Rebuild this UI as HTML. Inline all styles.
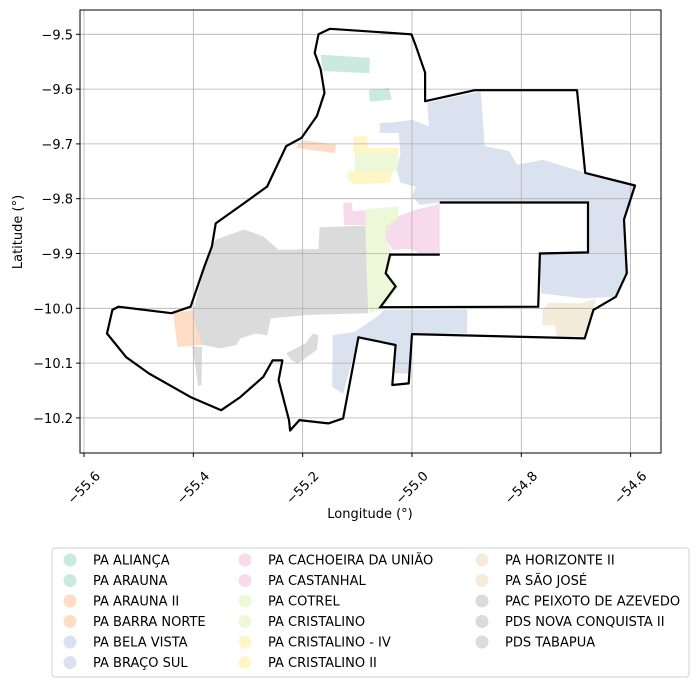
<!DOCTYPE html>
<html><head><meta charset="utf-8"><style>
html,body{margin:0;padding:0;background:#fff;}
svg{display:block;font-family:"DejaVu Sans","Liberation Sans",sans-serif;}
</style></head><body>
<svg id="chart" width="698" height="686" viewBox="0 0 698 686"></svg>
<script>
// ---- data (lon/lat) ----
const xTicks = [-55.6, -55.4, -55.2, -55.0, -54.8, -54.6];
const xTickLabels = ["\u221255.6","\u221255.4","\u221255.2","\u221255.0","\u221254.8","\u221254.6"];
const yTicks = [-9.5, -9.6, -9.7, -9.8, -9.9, -10.0, -10.1, -10.2];
const yTickLabels = ["\u22129.5","\u22129.6","\u22129.7","\u22129.8","\u22129.9","\u221210.0","\u221210.1","\u221210.2"];
const outlineLon = [-55.150,-55.001,-54.993,-54.976,-54.976,-54.885,-54.698,-54.683,-54.592,-54.612,-54.607,-54.627,-54.668,-54.684,-55.000,-55.006,-55.036,-55.030,-55.098,-55.126,-55.153,-55.206,-55.223,-55.225,-55.244,-55.237,-55.255,-55.272,-55.314,-55.349,-55.405,-55.481,-55.523,-55.558,-55.548,-55.537,-55.440,-55.405,-55.380,-55.366,-55.359,-55.307,-55.265,-55.230,-55.202,-55.174,-55.160,-55.167,-55.178,-55.171];
const outlineLat = [-9.490,-9.500,-9.521,-9.570,-9.622,-9.602,-9.602,-9.753,-9.776,-9.838,-9.936,-9.979,-10.003,-10.055,-10.047,-10.137,-10.140,-10.067,-10.053,-10.201,-10.210,-10.204,-10.223,-10.204,-10.131,-10.095,-10.095,-10.125,-10.162,-10.186,-10.162,-10.119,-10.089,-10.046,-10.003,-9.997,-10.009,-9.997,-9.924,-9.887,-9.845,-9.808,-9.778,-9.704,-9.689,-9.649,-9.607,-9.564,-9.534,-9.500];
const innerLon = [-54.949,-54.678,-54.678,-54.766,-54.769,-55.058,-55.030,-55.048,-55.040,-54.949];
const innerLat = [-9.807,-9.807,-9.898,-9.900,-9.997,-9.998,-9.960,-9.936,-9.902,-9.902];
const regionNames = ["PA ALIANÇA","PA ARAUNA","PA ARAUNA II","PA BARRA NORTE","PA BELA VISTA","PA BRAÇO SUL","PA CACHOEIRA DA UNIÃO","PA CASTANHAL","PA COTREL","PA CRISTALINO","PA CRISTALINO - IV","PA CRISTALINO II","PA HORIZONTE II","PA SÃO JOSÉ","PAC PEIXOTO DE AZEVEDO","PDS NOVA CONQUISTA II","PDS TABAPUA"];
const regionColors = ["#b3e2cd","#b3e2cd","#fdcdac","#fdcdac","#cbd5e8","#cbd5e8","#f4cae4","#f4cae4","#e6f5c9","#e6f5c9","#fff2ae","#fff2ae","#f1e2cc","#f1e2cc","#cccccc","#cccccc","#cccccc"];
// polygons: [regionIndex, lons, lats]
const regionPolys = [
 [0,[-55.167,-55.077,-55.078,-55.163],[-9.537,-9.543,-9.571,-9.567]],
 [1,[-55.079,-55.042,-55.037,-55.077],[-9.602,-9.598,-9.619,-9.623]],
 [2,[-55.200,-55.139,-55.141,-55.213],[-9.693,-9.701,-9.717,-9.707]],
 [3,[-55.437,-55.401,-55.384,-55.429],[-10.009,-10.003,-10.067,-10.070]],
 [4,[-55.059,-55.028,-55.000,-54.969,-54.972,-54.874,-54.867,-54.822,-54.808,-54.760,-54.683,-54.592,-54.612,-54.607,-54.627,-54.684,-54.764,-54.767,-54.678,-54.678,-54.949,-54.986,-55.000,-54.993,-55.021,-55.028,-55.021,-55.024,-55.042,-55.059],
    [-9.662,-9.660,-9.656,-9.668,-9.625,-9.604,-9.704,-9.713,-9.738,-9.729,-9.753,-9.776,-9.838,-9.936,-9.979,-9.982,-9.973,-9.898,-9.898,-9.807,-9.807,-9.811,-9.796,-9.778,-9.771,-9.747,-9.717,-9.680,-9.680,-9.680]],
 [5,[-55.052,-54.899,-54.899,-55.000,-55.006,-55.034,-55.030,-55.098,-55.126,-55.146,-55.145,-55.105,-55.077,-55.056],
    [-10.003,-10.002,-10.046,-10.047,-10.119,-10.119,-10.067,-10.053,-10.156,-10.143,-10.049,-10.043,-10.024,-10.009]],
 [6,[-55.126,-55.110,-55.108,-55.085,-55.084,-55.124],[-9.808,-9.807,-9.823,-9.821,-9.848,-9.848]],
 [7,[-55.049,-55.024,-54.993,-54.954,-54.949,-54.949,-54.985,-55.000,-55.035,-55.049],[-9.851,-9.832,-9.820,-9.811,-9.807,-9.900,-9.900,-9.892,-9.893,-9.875]],
 [8,[-55.085,-55.024,-55.024,-55.042,-55.049,-55.035,-55.043,-55.024,-55.052,-55.077,-55.080],[-9.819,-9.814,-9.838,-9.851,-9.875,-9.900,-9.936,-9.960,-9.998,-10.009,-9.997]],
 [9,[-55.105,-55.024,-55.028,-55.105],[-9.717,-9.717,-9.750,-9.750]],
 [10,[-55.107,-55.082,-55.080,-55.024,-55.024,-55.107],[-9.686,-9.686,-9.707,-9.707,-9.717,-9.717]],
 [11,[-55.118,-55.035,-55.040,-55.106,-55.118],[-9.750,-9.750,-9.771,-9.774,-9.764]],
 [12,[-54.750,-54.691,-54.663,-54.668,-54.684,-54.736,-54.738,-54.762,-54.761],[-9.990,-9.991,-9.982,-10.003,-10.052,-10.051,-10.031,-10.031,-10.003]],
 [14,[-55.359,-55.307,-55.272,-55.244,-55.171,-55.169,-55.085,-55.080,-55.188,-55.258,-55.265,-55.286,-55.314,-55.321,-55.349,-55.384,-55.394,-55.401,-55.398,-55.380,-55.366],
     [-9.875,-9.856,-9.869,-9.893,-9.892,-9.852,-9.849,-10.009,-10.012,-10.018,-10.049,-10.046,-10.055,-10.067,-10.073,-10.067,-10.034,-10.009,-9.997,-9.924,-9.887]],
 [15,[-55.230,-55.195,-55.181,-55.171,-55.174,-55.209,-55.220],[-10.082,-10.064,-10.046,-10.049,-10.076,-10.101,-10.095]],
 [16,[-55.405,-55.384,-55.385,-55.391,-55.401],[-10.070,-10.070,-10.140,-10.142,-10.073]]
];
// ---- axes ----
const L=80,T=10,R=661,B=453;
const xScale = lon => 84 + (lon + 55.6) * 546.6;
const yScale = lat => 34.3 + (-9.5 - lat) * 548;
const NS="http://www.w3.org/2000/svg";
const svg=document.getElementById('chart');
function mk(tag,attrs,parent){const e=document.createElementNS(NS,tag);for(const k in attrs)e.setAttribute(k,attrs[k]);(parent||svg).appendChild(e);return e;}
function pts(lons,lats){return lons.map((v,i)=>xScale(v).toFixed(1)+","+yScale(lats[i]).toFixed(1)).join(" ");}

const fills=mk('g',{});


regionPolys.forEach(p=>{
  const e=mk('polygon',{points:pts(p[1],p[2]),fill:regionColors[p[0]],'fill-opacity':0.7},fills);
  
  
});
// grid
const grid=mk('g',{stroke:'#b0b0b0','stroke-width':0.8});


xTicks.forEach((t,i)=>{const x=xScale(t);mk('line',{x1:x,y1:T,x2:x,y2:B},grid);
  const tk=mk('line',{x1:x,y1:B,x2:x,y2:B+4,stroke:'#000'});
  
  
  const tx=mk('text',{x:x,y:492,'font-size':13,'text-anchor':'middle',transform:`rotate(-45 ${x} 488)`});
  tx.textContent=xTickLabels[i];
  
  
});
yTicks.forEach((t,i)=>{const y=yScale(t);mk('line',{x1:L,y1:y,x2:R,y2:y},grid);
  const tk=mk('line',{x1:L-4,y1:y,x2:L,y2:y,stroke:'#000'});
  
  
  const tx=mk('text',{x:L-7,y:y+5,'font-size':13,'text-anchor':'end'});
  tx.textContent=yTickLabels[i];
  
  
});
// outline
const ol=mk('polygon',{points:pts(outlineLon,outlineLat),fill:'none',stroke:'#000','stroke-width':2.2,'stroke-linejoin':'round'});


const il=mk('polyline',{points:pts(innerLon,innerLat),fill:'none',stroke:'#000','stroke-width':2.2});


// frame
const fr=mk('rect',{x:L,y:T,width:R-L,height:B-T,fill:'none',stroke:'#000','stroke-width':1});


// axis titles
const xt=mk('text',{x:370,y:518,'font-size':13,'text-anchor':'middle'});xt.textContent='Longitude (°)';


const yt=mk('text',{x:22,y:232,'font-size':13,'text-anchor':'middle',transform:'rotate(-90 22 232)'});yt.textContent='Latitude (°)';


// legend
const lg=mk('g',{});


const lbox=mk('rect',{x:52,y:548,width:637,height:129,rx:3,fill:'#fff',stroke:'#d0d0d0'},lg);


const colX=[70,245,482];
regionNames.forEach((n,i)=>{
  const c=Math.floor(i/6),r=i%6;const y=560+r*20.5;
  const g=mk('g',{},lg);
  
  
  mk('circle',{cx:colX[c],cy:y,r:6.5,fill:regionColors[i],'fill-opacity':0.7},g);
  const t=mk('text',{x:colX[c]+23,y:y+4.5,'font-size':13},g);t.textContent=n;
});
</script>
</body></html>
